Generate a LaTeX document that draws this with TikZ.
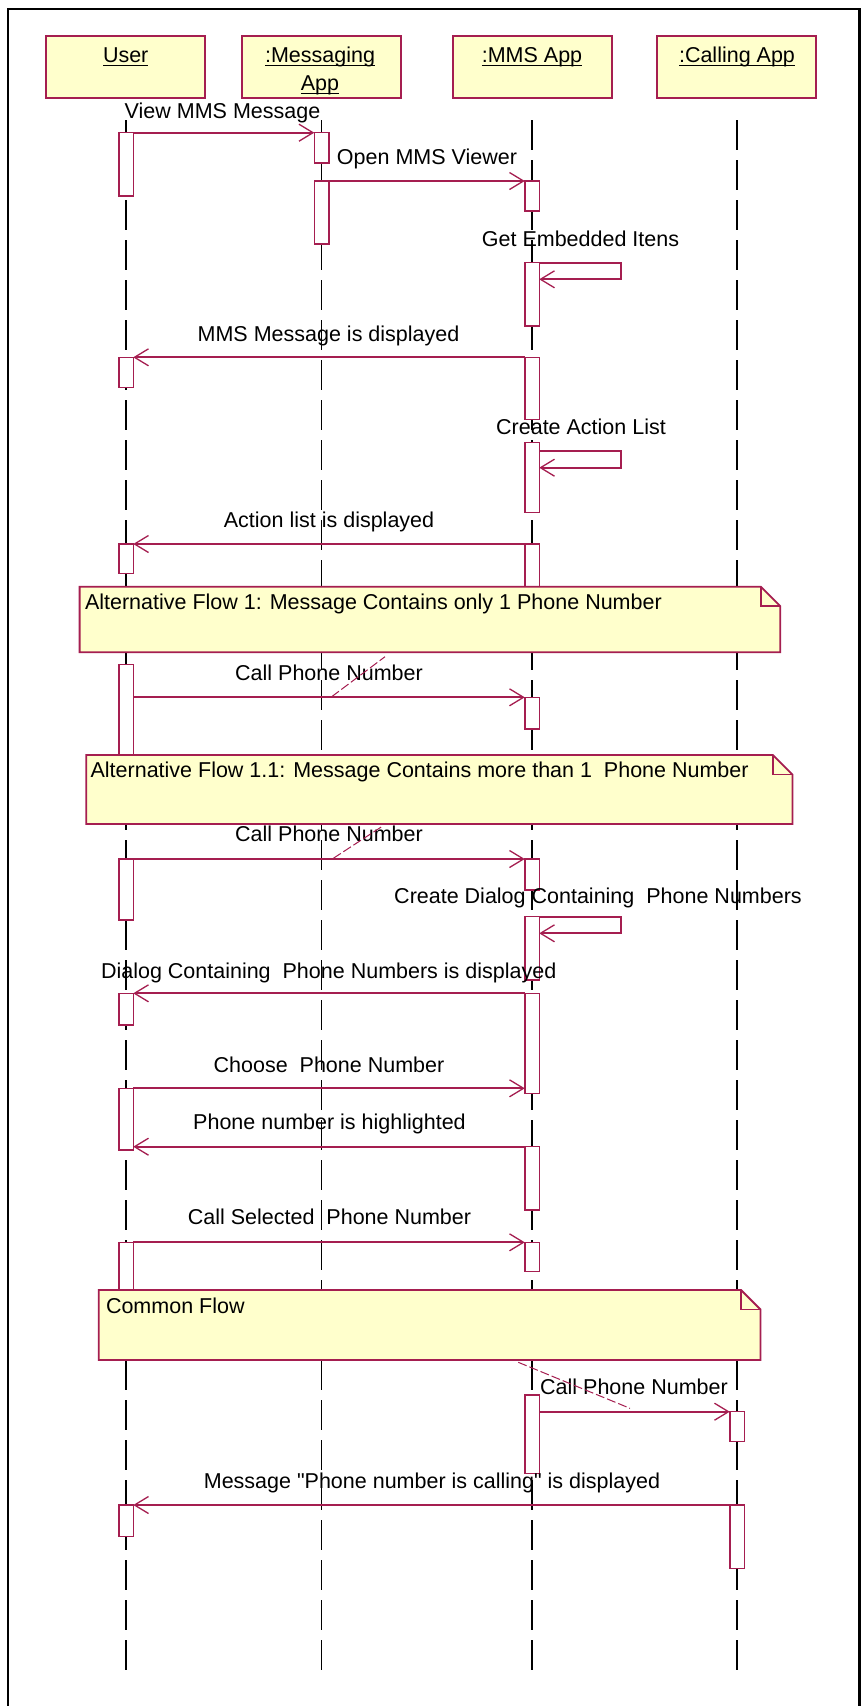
\documentclass[tikz,border=0pt]{standalone}
\usepackage{fontspec}
\setmainfont{Liberation Sans}
\newfontfamily\plainq{Liberation Sans}
\usetikzlibrary{arrows.meta}
\definecolor{rose}{RGB}{165,30,80}
\definecolor{noteyellow}{RGB}{255,255,204}
\newcommand\actbar[4]{\node[actbox, minimum height={#4-#3}] (#1) at (#2,#3) {};}
\newcommand\notebox[5]{%
  \coordinate (#1nw) at (#2,#3);
  \coordinate (#1se) at (#4,#5);
  \coordinate (#1fa) at (#4-19.5,#3);
  \coordinate (#1fb) at (#4,#3+19.5);
  \coordinate (#1fc) at (#4-19.5,#3+19.5);
  \filldraw[note] (#1nw) -- (#1fa) -- (#1fb) -- (#1se) -- (#1nw |- #1se) -- cycle;
  \draw[note, fill=none] (#1fa) -- (#1fc) -- (#1fb);
}
\begin{document}
\begin{tikzpicture}[x=1pt,y=-1pt,
  every node/.style={font=\fontsize{21.5}{25}\selectfont, inner sep=0pt, outer sep=0pt},
  head/.style={draw=rose, fill=noteyellow, line width=1.5pt, minimum width=159pt, minimum height=62pt, anchor=north},
  lifeline/.style={draw=black, line width=1.4pt, dash pattern=on 30pt off 10pt},
  actbox/.style={draw=rose, fill=white, line width=1.5pt, minimum width=14.5pt, anchor=north},
  msg/.style={draw=rose, line width=1.8pt, -{Straight Barb[length=14pt,width=17pt,line width=1.3pt]}},
  lbl/.style={anchor=base},
  notetext/.style={anchor=base west},
  note/.style={draw=rose, fill=noteyellow, line width=1.8pt, line join=miter},
  uline/.style={line width=1.2pt},
  slash/.style={draw=rose, line width=1pt, dash pattern=on 9pt off 3pt}
]
\fill[white] (0,0) rectangle (861,1706);
\useasboundingbox (0,0) rectangle (861,1706);
% frame
\coordinate (frameBL) at (8,1706);
\coordinate (frameTL) at (8,9);
\coordinate (frameTR) at (859.5,9);
\coordinate (frameBR) at (859.5,1706);
\draw[line width=2.8pt] (frameBL) -- (frameTL) -- (frameTR) -- (frameBR);

% heads
\node[head] (uHead) at (125.5,36) {};
\node[head] (gHead) at (321.5,36) {};
\node[head] (mHead) at (532.5,36) {};
\node[head] (cHead) at (736.5,36) {};
\node[lbl] (uT) at (125.7,62.7) {User};
\node[lbl] (gT1) at (320,62.7) {:Messaging\ };
\node[lbl] (gT2) at (320,90.7) {App};
\node[lbl] (mT) at (532,62.7) {:MMS App};
\node[lbl] (cT) at (737,62.7) {:Calling App};
\foreach \n in {uT,gT1,gT2,mT,cT}
  \draw[uline] ([yshift=-2.8pt]\n.base west) -- ([yshift=-2.8pt]\n.base east);

% lifelines
\coordinate (uTop) at (126,120);   \coordinate (uEnd) at (126,1670);
\coordinate (gTop) at (321.5,120); \coordinate (gEnd) at (321.5,1670);
\coordinate (mTop) at (532,120);   \coordinate (mEnd) at (532,1670);
\coordinate (cTop) at (737,120);   \coordinate (cEnd) at (737,1670);
\draw[lifeline] (uTop) -- (uEnd);
\draw[lifeline] (gTop) -- (gEnd);
\draw[lifeline] (mTop) -- (mEnd);
\draw[lifeline] (cTop) -- (cEnd);

% activations: User
\actbar{uA1}{126}{132.7}{196}
\actbar{uA2}{126}{357.3}{387.7}
\actbar{uA3}{126}{544}{573.3}
\actbar{uA4}{126}{664.3}{760}
\actbar{uA5}{126}{859}{920}
\actbar{uA6}{126}{993.3}{1025}
\actbar{uA7}{126}{1088.3}{1150}
\actbar{uA8}{126}{1242.3}{1296}
\actbar{uA9}{126}{1505}{1536.7}
% Messaging
\actbar{gA1}{321.5}{132.7}{163}
\actbar{gA2}{321.5}{181}{244}
% MMS
\actbar{mA1}{532}{181}{211}
\actbar{mA2}{532}{262.7}{326}
\actbar{mA3}{532}{357.3}{419.3}
\actbar{mA4}{532}{442.3}{512.7}
\actbar{mA5}{532}{544}{592}
\actbar{mA6}{532}{697.3}{729}
\actbar{mA7}{532}{859}{890}
\actbar{mA8}{532}{916.7}{980}
\actbar{mA9}{532}{993.3}{1093.3}
\actbar{mA10}{532}{1146.7}{1210}
\actbar{mA11}{532}{1242.3}{1271.7}
\actbar{mA12}{532}{1395}{1473.3}
% Calling
\actbar{cA1}{737}{1411.7}{1441.7}
\actbar{cA2}{737}{1505}{1568.3}

% messages
\draw[msg] (uA1.north east) -- (gA1.north west);
\node[lbl] (l1) at (222.5,118) {View MMS Message};
\draw[msg] (gA2.north east) -- (mA1.north west);
\node[lbl] (l2) at (427,164) {Open MMS Viewer};
\coordinate (loop1) at (621,279.3);
\draw[msg] (mA2.north east) -| (loop1) -- (mA2.east |- loop1);
\node[lbl] (l3) at (580.5,246) {Get Embedded Itens};
\draw[msg] (mA3.north west) -- (uA2.north east);
\node[lbl] (l4) at (328.5,341) {MMS Message is displayed};
\coordinate (loop2a) at (621,450.7);
\coordinate (loop2b) at (621,467.7);
\draw[msg] (mA4.east |- loop2a) -- (loop2a) -- (loop2b) -- (mA4.east |- loop2b);
\node[lbl] (l5) at (581,434) {Create Action List};
\draw[msg] (mA5.north west) -- (uA3.north east);
\node[lbl] (l6) at (329,527) {Action list is displayed};
\draw[msg] (uA4.east |- mA6.north) -- (mA6.north west);
\node[lbl] (l7) at (329,680) {Call Phone Number};
\draw[msg] (uA5.north east) -- (mA7.north west);
\node[lbl] (l8) at (329,841) {Call Phone Number};
\coordinate (loop3) at (621,933.3);
\draw[msg] (mA8.north east) -| (loop3) -- (mA8.east |- loop3);
\node[lbl] (l9) at (598,903) {Create Dialog Containing\ \ Phone Numbers};
\draw[msg] (mA9.north west) -- (uA6.north east);
\node[lbl] (l10) at (328.7,978) {Dialog Containing\ \ Phone Numbers is displayed};
\draw[msg] (uA7.north east) -- (mA9.west |- uA7.north);
\node[lbl] (l11) at (329,1072) {Choose\ \ Phone Number};
\draw[msg] (mA10.north west) -- (uA7.east |- mA10.north);
\node[lbl] (l12) at (329.5,1129) {Phone number is highlighted};
\draw[msg] (uA8.north east) -- (mA11.north west);
\node[lbl] (l13) at (329.5,1224) {Call Selected\ \ Phone Number};
\draw[msg] (mA12.east |- cA1.north) -- (cA1.north west);
\node[lbl] (l14) at (634,1394) {Call Phone Number};
\draw[msg] (cA2.north west) -- (uA9.north east);
\node[lbl] (l15) at (432,1488) {Message {\plainq"}Phone number is calling{\plainq"} is displayed};

% notes
\notebox{nA}{79.6}{586.7}{780.3}{652.3}
\node[notetext] (nAt) at (85,609) {Alternative Flow 1: Message Contains only 1 Phone Number};
\notebox{nB}{86.2}{755}{792.4}{824}
\node[notetext] (nBt) at (90.6,777) {Alternative Flow 1.1: Message Contains more than 1\ \ Phone Number};
\notebox{nC}{98.8}{1290}{760.5}{1360}
\node[notetext] (nCt) at (106,1313) {Common Flow};

% stray link marks
\coordinate (sA1) at (331.7,696.7); \coordinate (sA2) at (385,656.7);
\coordinate (sB1) at (333.3,858.3); \coordinate (sB2) at (381.7,826.7);
\coordinate (sC1) at (518.3,1362.3); \coordinate (sC2) at (630,1408.3);
\draw[slash] (sA1) -- (sA2);
\draw[slash] (sB1) -- (sB2);
\draw[slash] (sC1) -- (sC2);
\end{tikzpicture}
\end{document}
